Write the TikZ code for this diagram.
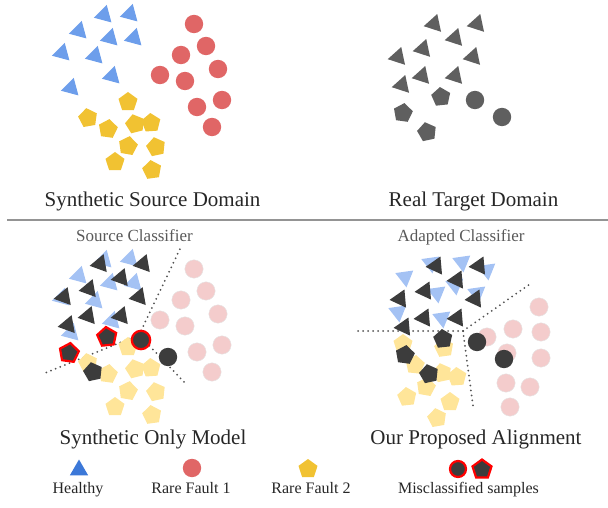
\documentclass[tikz,border=0pt]{standalone}
\usepackage{fontspec}
\setmainfont{Liberation Serif}
\definecolor{tlblue}{HTML}{6D9EEB}
\definecolor{lgblue}{HTML}{3C78D8}
\definecolor{fred}{HTML}{E06666}
\definecolor{fyel}{HTML}{F1C232}
\definecolor{lblue}{HTML}{A4C2F4}
\definecolor{lred}{HTML}{F4CCCC}
\definecolor{lyel}{HTML}{FFE599}
\definecolor{tgray}{HTML}{5F5F5F}
\definecolor{dgray}{HTML}{3C3C3C}
\definecolor{txtc}{HTML}{262626}
\definecolor{subc}{HTML}{595959}
\newcommand\Tri[4]{\fill[#4,shift={(#1,#2)}] ({-90-(#3)}:10.5) -- ({-210-(#3)}:10.5) -- ({-330-(#3)}:10.5) -- cycle;}
\newcommand\Pent[4]{\fill[#4,shift={(#1,#2)}] ({-90-(#3)}:10) -- ({-162-(#3)}:10) -- ({-234-(#3)}:10) -- ({-306-(#3)}:10) -- ({-378-(#3)}:10) -- cycle;}
\newcommand\Circ[3]{\fill[#3] (#1,#2) circle (9.2);}
\def\srcTri{104/15,130/14,79/31,110/38,134/38,62/53,95/56,112/76,71/88}
\def\srcCirc{194/24,206/46,181/55,218/69,160/75,185/81,222/100,197/107,212/127}
\def\srcPent{128/102/0,88/118/10,108/129/-8,135/124/14,151/123/4,128/146/-10,156/147/12,115/162/0,152/170/8}
\def\tgtTri{434/24,477/24,455/38,423/49,473/57,398/57,422/76,455/76,402/85}
\def\tgtPent{441/97/6,403/113/-8,427/132/12}
\def\tgtCirc{475/100,502/117}
\tikzset{
  title/.style={font=\fontsize{21}{25}\selectfont, text=txtc, anchor=base, inner sep=0pt},
  sub/.style={font=\fontsize{17}{20}\selectfont, text=subc, anchor=base, inner sep=0pt},
  leg/.style={font=\fontsize{16}{19}\selectfont, text=txtc, anchor=base, inner sep=0pt},
  divider/.style={line width=1.4pt, draw=black!42},
  boundary/.style={draw=black!68, line width=2pt, line cap=round, dash pattern=on 0pt off 5pt},
  miss/.style={draw=red, line width=2.2pt},
  lcirc/.style={lred, draw=black!10, line width=0.4pt}
}
\begin{document}
\begin{tikzpicture}[x=1pt,y=-1pt]
\useasboundingbox (0,0) rectangle (608,508);
% ---------- top left: synthetic source ----------
\foreach \x/\y in \srcTri {\Tri{\x}{\y}{-15}{tlblue}}
\foreach \x/\y in \srcCirc {\Circ{\x}{\y}{fred}}
\foreach \x/\y/\r in \srcPent {\Pent{\x}{\y}{\r}{fyel}}
% ---------- top right: real target ----------
\foreach \x/\y in \tgtTri {\Tri{\x}{\y}{-18}{tgray}}
\foreach \x/\y/\r in \tgtPent {\Pent{\x}{\y}{\r}{tgray}}
\foreach \x/\y in \tgtCirc {\Circ{\x}{\y}{tgray}}
\node[title] (t1) at (152.5,206) {Synthetic Source Domain};
\node[title] (t2) at (473.5,206) {Real Target Domain};
\coordinate (dl) at (7,220);
\coordinate (dr) at (608,220);
\draw[divider] (dl) -- (dr);
% ---------- bottom left: synthetic only model ----------
\node[sub] (s1) at (134.5,241) {Source Classifier};
\coordinate (P) at (139,335);
\coordinate (Pa) at (180,249);
\coordinate (Pb) at (45,373);
\coordinate (Pc) at (186,384);
\draw[boundary] (P) -- (Pa);
\draw[boundary] (P) -- (Pb);
\draw[boundary] (P) -- (Pc);
\begin{scope}[shift={(0,245)}]
\foreach \x/\y in \srcTri {\Tri{\x}{\y}{-15}{lblue}}
\foreach \x/\y in \srcCirc {\Circ{\x}{\y}{lcirc}}
\foreach \x/\y/\r in \srcPent {\Pent{\x}{\y}{\r}{lyel}}
\end{scope}
\begin{scope}[shift={(-334,240)}]
\foreach \x/\y in \tgtTri {\Tri{\x}{\y}{-20}{dgray}}
\Pent{427}{132}{12}{dgray}
\Circ{502}{117}{dgray}
\Pent{441}{97}{6}{dgray,miss}
\Pent{403}{113}{-8}{dgray,miss}
\Circ{475}{100}{dgray,miss}
\end{scope}
\node[title] (m1) at (153,444) {Synthetic Only Model};
% ---------- bottom right: proposed alignment ----------
\node[sub] (s2) at (461,241) {Adapted Classifier};
\coordinate (Q) at (463,331);
\coordinate (Qa) at (354,331);
\coordinate (Qb) at (530,284);
\coordinate (Qc) at (473,406);
\draw[boundary] (Q) -- (Qa);
\draw[boundary] (Q) -- (Qb);
\draw[boundary] (Q) -- (Qc);
\foreach \x/\y in {405/277,431/263,462/262,487/270,437/293,455/285,477/293,398/312,442/318} {\Tri{\x}{\y}{188}{lblue}}
\foreach \x/\y in {539/307,513/329,541/332,487/337,507/353,541/358,506/383,530/387,510/407} {\Circ{\x}{\y}{lcirc}}
\foreach \x/\y/\r in {403/344/0,444/348/8,415/365/-6,442/373/12,457/377/4,426/387/-10,407/397/6,450/402/0,437/418/10} {\Pent{\x}{\y}{\r}{lyel}}
\begin{scope}[shift={(2,242)}]
\foreach \x/\y in \tgtTri {\Tri{\x}{\y}{-25}{dgray}}
\foreach \x/\y/\r in \tgtPent {\Pent{\x}{\y}{\r}{dgray}}
\foreach \x/\y in \tgtCirc {\Circ{\x}{\y}{dgray}}
\end{scope}
\node[title] (m2) at (476,444) {Our Proposed Alignment};
% ---------- legend ----------
\Tri{79}{470}{0}{lgblue}
\Circ{192}{468}{fred}
\Pent{308}{469}{0}{fyel}
\fill[dgray,miss] (458,469) circle (8);
\Pent{482}{469.5}{0}{dgray,miss}
\node[leg] (l1) at (78,493) {Healthy};
\node[leg] (l2) at (191,493) {Rare Fault 1};
\node[leg] (l3) at (311,493) {Rare Fault 2};
\node[leg] (l4) at (468.5,493) {Misclassified samples};
\end{tikzpicture}
\end{document}
